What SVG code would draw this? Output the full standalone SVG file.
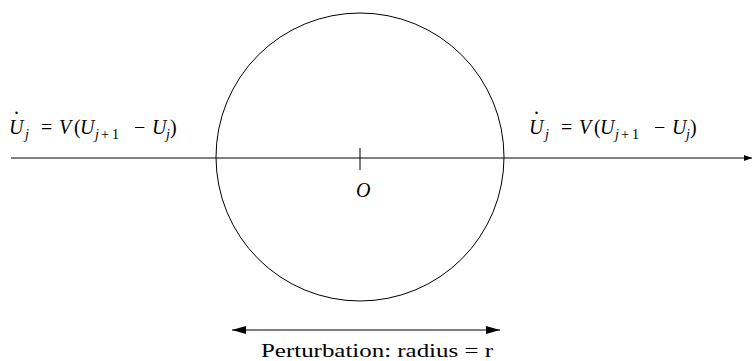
<svg xmlns="http://www.w3.org/2000/svg" width="752" height="361" viewBox="0 0 752 361">
<style>
.ln{stroke:#000;stroke-width:1;fill:none}
.m{font-family:"Liberation Serif","Times New Roman",serif;font-size:20px;fill:#000}
.i{font-style:italic}
.s{font-size:14px}
.t{font-family:"Liberation Serif","Times New Roman",serif;font-size:19px;fill:#000}
</style>
<defs>
<marker id="ah" viewBox="0 0 8 8" refX="8" refY="4" markerWidth="8" markerHeight="8" markerUnits="userSpaceOnUse" orient="auto">
<path d="M0,1 L8,4 L0,7 Z" fill="#000"/>
</marker>
<marker id="ah2" viewBox="0 0 14 8" refX="14" refY="4" markerWidth="14" markerHeight="8" markerUnits="userSpaceOnUse" orient="auto-start-reverse">
<path d="M0,0 L14,4 L0,8 Z" fill="#000"/>
</marker>
</defs>
<g id="circle"><circle class="ln" cx="360" cy="157" r="144"/></g>
<g id="connectors">
<line class="ln" x1="11" y1="158" x2="752" y2="158" marker-end="url(#ah)"/>
<line class="ln" x1="360" y1="148" x2="360" y2="170"/>
<line class="ln" x1="232" y1="330" x2="500" y2="330" marker-start="url(#ah2)" marker-end="url(#ah2)"/>
</g>
<g id="origin"><text class="m i" x="356" y="197" font-size="18">O</text></g>
<g id="eq-left">
<text class="m"><tspan class="i" x="9" y="134">U</tspan><tspan x="14" y="114">.</tspan><tspan class="i s" x="25" y="139">j</tspan><tspan x="41" y="134">=</tspan><tspan class="i" x="59" y="134">V</tspan><tspan x="74" y="134">(</tspan><tspan class="i" x="80" y="134">U</tspan><tspan class="i s" x="95" y="139">j</tspan><tspan class="s" x="101" y="139">+</tspan><tspan class="s" x="112" y="139">1</tspan><tspan x="134" y="134">−</tspan><tspan class="i" x="152" y="134">U</tspan><tspan class="i s" x="166" y="139">j</tspan><tspan x="170" y="134">)</tspan></text>
</g>
<g id="eq-right">
<text class="m"><tspan class="i" x="529" y="134">U</tspan><tspan x="534" y="114">.</tspan><tspan class="i s" x="545" y="139">j</tspan><tspan x="561" y="134">=</tspan><tspan class="i" x="579" y="134">V</tspan><tspan x="594" y="134">(</tspan><tspan class="i" x="600" y="134">U</tspan><tspan class="i s" x="615" y="139">j</tspan><tspan class="s" x="621" y="139">+</tspan><tspan class="s" x="632" y="139">1</tspan><tspan x="654" y="134">−</tspan><tspan class="i" x="672" y="134">U</tspan><tspan class="i s" x="686" y="139">j</tspan><tspan x="690" y="134">)</tspan></text>
</g>
<g id="label"><text class="t" x="261" y="357" textLength="232" lengthAdjust="spacingAndGlyphs">Perturbation: radius = r</text></g>
</svg>
